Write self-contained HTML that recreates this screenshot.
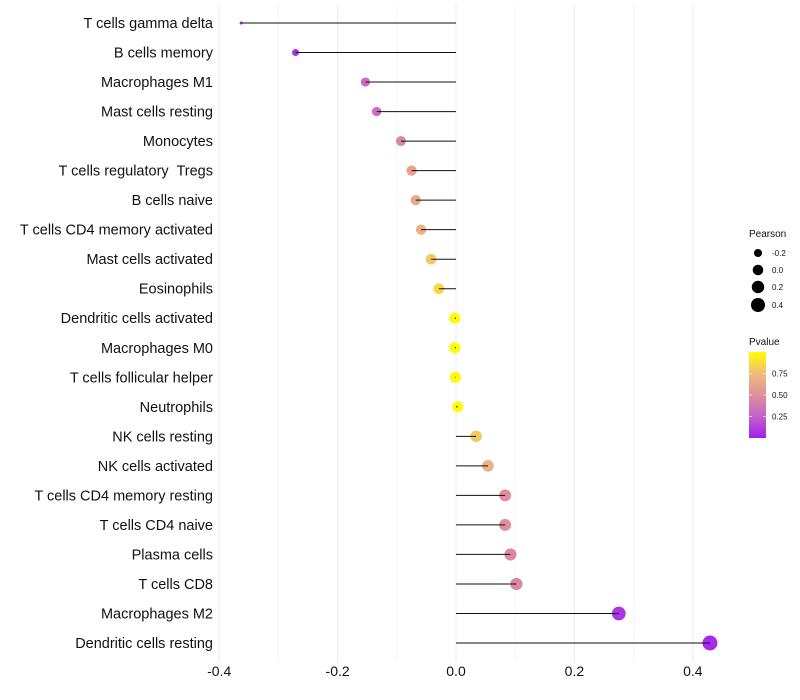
<!DOCTYPE html>
<html><head><meta charset="utf-8"><style>
body{margin:0;background:#fff;}
svg{display:block;font-family:"Liberation Sans",sans-serif;}
text{white-space:pre;}
</style></head><body>
<svg id="chart" width="800" height="700"></svg>
<script>
const categories=["T cells gamma delta","B cells memory","Macrophages M1","Mast cells resting","Monocytes","T cells regulatory  Tregs","B cells naive","T cells CD4 memory activated","Mast cells activated","Eosinophils","Dendritic cells activated","Macrophages M0","T cells follicular helper","Neutrophils","NK cells resting","NK cells activated","T cells CD4 memory resting","T cells CD4 naive","Plasma cells","T cells CD8","Macrophages M2","Dendritic cells resting"];
const pearson=[-0.363,-0.271,-0.153,-0.134,-0.093,-0.075,-0.068,-0.059,-0.042,-0.029,-0.002,-0.002,-0.001,0.003,0.034,0.054,0.083,0.083,0.092,0.102,0.275,0.429];
const pvalue=[0.03,0.08,0.3,0.32,0.45,0.6,0.65,0.7,0.8,0.86,0.99,0.99,0.99,0.98,0.8,0.7,0.5,0.5,0.46,0.45,0.08,0.04];
const xTicks=[-0.4,-0.2,0.0,0.2,0.4];
const xMinor=[-0.3,-0.1,0.1,0.3];
const sizeLegend=[-0.2,0.0,0.2,0.4];
const pTicks=[0.25,0.5,0.75];

const NS="http://www.w3.org/2000/svg";
const svg=document.getElementById('chart');
function el(t,a,p){const e=document.createElementNS(NS,t);for(const k in a)e.setAttribute(k,a[k]);(p||svg).appendChild(e);return e;}
const x=v=>456+v*592;
const y=i=>23+i*(620/21);
const r=v=>1.5+6*Math.sqrt(Math.max(0,(v+0.363)/0.792));
const stops=[[0,[160,32,240]],[0.25,[196,98,200]],[0.5,[223,143,156]],[0.75,[242,187,122]],[1,[255,255,0]]];
function col(p){for(let i=1;i<stops.length;i++){if(p<=stops[i][0]){const a=stops[i-1],b=stops[i],t=(p-a[0])/(b[0]-a[0]);const c=a[1].map((v,k)=>Math.round(v+(b[1][k]-v)*t));return `rgb(${c})`;}}return 'rgb(255,255,0)';}

xMinor.forEach(v=>{const l=el('line',{x1:x(v),x2:x(v),y1:5,y2:662,stroke:'#f4f4f4','stroke-width':1});

});
xTicks.forEach(v=>{const l=el('line',{x1:x(v),x2:x(v),y1:5,y2:662,stroke:'#ebebeb','stroke-width':1});


const t=el('text',{x:x(v),y:676,'text-anchor':'middle','font-size':14,fill:'#111'});t.textContent=v.toFixed(1);

});

categories.forEach((c,i)=>{
const t=el('text',{x:213,y:y(i)+5,'text-anchor':'end','font-size':14.5,fill:'#111'});t.textContent=c;


const d=el('circle',{cx:x(pearson[i]),cy:y(i),r:r(pearson[i]),fill:col(pvalue[i])});


const l=el('line',{x1:x(0),x2:x(pearson[i]),y1:y(i),y2:y(i),stroke:'#111','stroke-width':1});


});

let t=el('text',{x:749,y:237,'font-size':10,fill:'#111'});t.textContent='Pearson';


const ly=[253,270,287,305];
sizeLegend.forEach((v,i)=>{
const c=el('circle',{cx:758,cy:ly[i],r:r(v)*0.95,fill:'#000'});


const tt=el('text',{x:772,y:ly[i]+3,'font-size':8,fill:'#111'});tt.textContent=v.toFixed(1);


});
t=el('text',{x:749,y:345,'font-size':10,fill:'#111'});t.textContent='Pvalue';


const defs=el('defs',{});
const g=el('linearGradient',{id:'pg',x1:0,y1:1,x2:0,y2:0},defs);
stops.forEach(s=>el('stop',{offset:s[0],'stop-color':`rgb(${s[1]})`},g));
const bar=el('rect',{x:749,y:352,width:17,height:86,fill:'url(#pg)'});


pTicks.forEach(p=>{const yy=438-p*86;
el('line',{x1:749,x2:752,y1:yy,y2:yy,stroke:'#fff','stroke-width':0.6});
el('line',{x1:763,x2:766,y1:yy,y2:yy,stroke:'#fff','stroke-width':0.6});
const tt=el('text',{x:772,y:yy+3,'font-size':8,fill:'#111'});tt.textContent=p.toFixed(2);

});
</script>
</body></html>
